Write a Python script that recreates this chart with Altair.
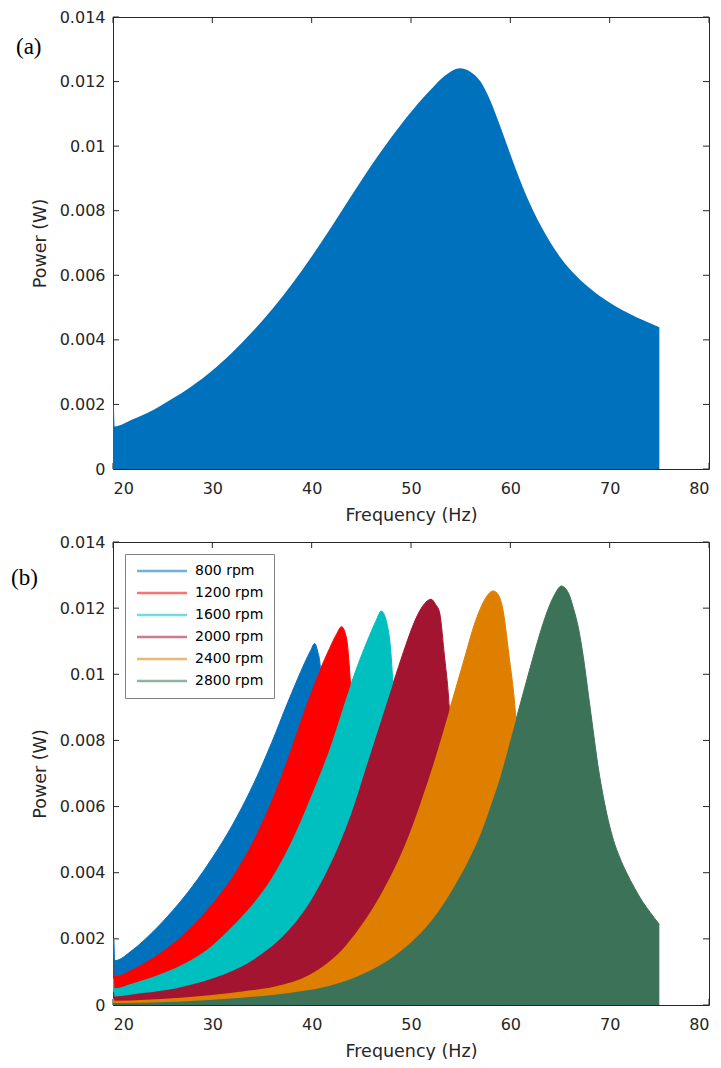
import altair as alt
import pandas as pd

# ---------------- data ----------------
FREQ_A = [20.0, 20.08, 20.16, 22.0, 24.0, 26.0, 28.0, 30.0, 32.0, 34.0, 36.0, 38.0, 40.0, 42.0,
          44.0, 46.0, 48.0, 50.0, 51.5, 52.5, 53.5, 54.3, 54.9, 56.0, 57.0, 58.0, 59.0, 60.0,
          61.0, 62.0, 63.0, 64.0, 65.0, 66.0, 67.5, 69.0, 70.5, 72.0, 73.5, 75.0]
POWER_A = [0.0020, 0.0020, 0.00132, 0.00154, 0.00182, 0.00218, 0.00258, 0.00305, 0.00361,
           0.00424, 0.00494, 0.00572, 0.00658, 0.0075, 0.00846, 0.0094, 0.01027, 0.01106,
           0.01159, 0.01192, 0.0122, 0.01236, 0.01241, 0.0123, 0.0120, 0.0114, 0.0106, 0.00975,
           0.00893, 0.0082, 0.00757, 0.00703, 0.00657, 0.00619, 0.00573, 0.00536, 0.00506,
           0.00481, 0.00459, 0.00439]

F800 = [20.0, 20.08, 20.16, 22.0, 24.0, 26.0, 28.0, 30.0, 32.0, 34.0, 36.0, 37.5, 38.5, 39.3,
        39.9, 40.3, 40.6, 40.85, 41.2, 41.5]
P800 = [0.0020, 0.0020, 0.00134, 0.00167, 0.00221, 0.00285, 0.00359, 0.00445, 0.00543, 0.00659,
        0.00795, 0.00908, 0.0098, 0.01035, 0.01072, 0.01093, 0.0107, 0.01028, 0.0080, 0.0050]

F1200 = [20.0, 20.08, 20.16, 22.0, 24.0, 26.0, 28.0, 30.0, 32.0, 34.0, 36.0, 38.0, 39.5, 40.8,
         41.8, 42.5, 43.0, 43.5, 43.85, 44.2, 44.5]
P1200 = [0.0014, 0.0014, 0.00087, 0.00108, 0.00142, 0.00185, 0.0024, 0.00306, 0.00386, 0.0049,
         0.0062, 0.0078, 0.0091, 0.0101, 0.01078, 0.01121, 0.01144, 0.0111, 0.00998, 0.0080,
         0.0050]

F1600 = [20.0, 20.08, 20.16, 22.0, 24.0, 26.0, 28.0, 30.0, 32.0, 34.0, 36.0, 38.0, 40.0, 42.0,
         43.5, 44.8, 45.8, 46.5, 47.0, 47.68, 48.02, 48.18, 48.5, 48.8]
P1600 = [0.0008, 0.0008, 0.00051, 0.00066, 0.00085, 0.00108, 0.00138, 0.0018, 0.00237, 0.00302,
         0.00385, 0.00496, 0.00635, 0.0079, 0.0093, 0.0104, 0.01115, 0.01163, 0.01191, 0.01139,
         0.01048, 0.0097, 0.0080, 0.0050]

F2000 = [20.0, 20.08, 20.16, 23.0, 26.4, 29.7, 33.0, 35.0, 37.0, 38.5, 40.0, 41.3, 42.7, 44.0,
         45.5, 47.0, 48.5, 49.5, 50.3, 51.0, 51.5, 52.02, 52.5, 52.86, 53.36, 53.86, 54.2, 54.5]
P2000 = [0.0004, 0.0004, 0.00026, 0.00036, 0.00051, 0.00077, 0.00117, 0.00155, 0.00205, 0.00255,
         0.0032, 0.0039, 0.0048, 0.0058, 0.0072, 0.0086, 0.0100, 0.0109, 0.01155, 0.01198,
         0.01218, 0.01227, 0.0121, 0.01189, 0.01058, 0.00897, 0.0070, 0.0050]

F2400 = [20.0, 20.08, 20.16, 26.4, 33.0, 36.3, 39.7, 41.5, 43.0, 44.7, 46.5, 48.0, 49.2, 50.19,
         51.2, 52.19, 53.86, 55.19, 56.52, 57.0, 57.5, 57.9, 58.26, 58.8, 59.19, 59.86, 60.52,
         60.9, 61.2]
P2400 = [0.0002, 0.0002, 0.00013, 0.00021, 0.00041, 0.00056, 0.0009, 0.00125, 0.00165, 0.00228,
         0.0031, 0.00393, 0.0047, 0.00545, 0.00632, 0.00722, 0.0089, 0.01028, 0.01163, 0.0120,
         0.0123, 0.01246, 0.01252, 0.0124, 0.01205, 0.01058, 0.0088, 0.0070, 0.0050]

F2800 = [20.0, 26.4, 33.0, 36.5, 39.7, 42.0, 44.7, 46.7, 48.5, 50.5, 52.2, 54.0, 55.0, 56.0,
         57.0, 58.0, 59.0, 60.0, 61.0, 62.0, 63.0, 63.5, 64.0, 64.5, 65.13, 65.5, 65.86, 66.36,
         66.86, 67.36, 67.86, 68.36, 68.86, 69.36, 69.86, 70.4, 71.0, 71.7, 72.5, 73.3, 74.1, 75.0]
P2800 = [0.00006, 0.0001, 0.00022, 0.00032, 0.00045, 0.0006, 0.00088, 0.00117, 0.00152, 0.00203,
         0.0026, 0.0034, 0.00392, 0.0045, 0.00516, 0.0060, 0.0069, 0.0080, 0.0091, 0.0102,
         0.01125, 0.01172, 0.01212, 0.01243, 0.01267, 0.01261, 0.01245, 0.01199, 0.01139, 0.0105,
         0.00938, 0.00825, 0.00716, 0.0063, 0.00558, 0.00497, 0.00447, 0.0040, 0.00354, 0.00313,
         0.00279, 0.00244]

RPM_LABELS = ["800 rpm", "1200 rpm", "1600 rpm", "2000 rpm", "2400 rpm", "2800 rpm"]
SERIES_F = [F800, F1200, F1600, F2000, F2400, F2800]
SERIES_P = [P800, P1200, P1600, P2000, P2400, P2800]
COLORS = ["#0072BD", "#FF0000", "#00BFBF", "#A2142F", "#DE7F00", "#3C7358"]
COLOR_A = "#0072BD"

X_TICKS = [20, 30, 40, 50, 60, 70, 80]
Y_TICKS = [0, 0.002, 0.004, 0.006, 0.008, 0.01, 0.012, 0.014]

# ---------------- styling ----------------
FONT = "DejaVu Sans"
INK = "#262626"
TICK = 6
W = 596
H_TOP = 452
H_BOT = 463


def x_enc():
    return alt.X("f:Q", scale=alt.Scale(domain=[20, 80], nice=False, zero=False),
                 axis=alt.Axis(values=X_TICKS, title="Frequency (Hz)", grid=False, domain=False,
                               ticks=False, labelPadding=11, titlePadding=10, labelFont=FONT,
                               titleFont=FONT, labelFontSize=16, titleFontSize=17.5,
                               titleFontWeight="normal", labelColor=INK, titleColor=INK))


def y_enc():
    return alt.Y("p:Q", stack=None, scale=alt.Scale(domain=[0, 0.014], nice=False),
                 axis=alt.Axis(values=Y_TICKS, format="~g", title="Power (W)", grid=False,
                               domain=False, ticks=False, labelPadding=8, titlePadding=10,
                               labelFont=FONT, titleFont=FONT, labelFontSize=16,
                               titleFontSize=17.5, titleFontWeight="normal",
                               labelColor=INK, titleColor=INK))


def tick_layers(h):
    xt = pd.DataFrame({"f": X_TICKS})
    yt = pd.DataFrame({"p": Y_TICKS})
    return [
        alt.Chart(xt).mark_rule(color=INK, strokeWidth=1).encode(
            x=x_enc(), y=alt.value(h), y2=alt.value(h - TICK)),
        alt.Chart(xt).mark_rule(color=INK, strokeWidth=1).encode(
            x=x_enc(), y=alt.value(0), y2=alt.value(TICK)),
        alt.Chart(yt).mark_rule(color=INK, strokeWidth=1).encode(
            y=y_enc(), x=alt.value(0), x2=alt.value(TICK)),
        alt.Chart(yt).mark_rule(color=INK, strokeWidth=1).encode(
            y=y_enc(), x=alt.value(W - TICK), x2=alt.value(W)),
    ]


def panel_label(text, dx, dy):
    return alt.Chart(pd.DataFrame({"t": [text]})).mark_text(
        font="Liberation Serif", fontSize=23, align="left", baseline="middle", color="black"
    ).encode(text="t:N", x=alt.value(dx), y=alt.value(dy))


# ---------------- panel (a) ----------------
df_a = pd.DataFrame({"f": FREQ_A, "p": POWER_A})
area_a = alt.Chart(df_a).mark_area(interpolate="monotone", color=COLOR_A, opacity=1).encode(
    x=x_enc(), y=y_enc())
top = alt.layer(*tick_layers(H_TOP), area_a, panel_label("(a)", -97, 30)).properties(
    width=W, height=H_TOP)

# ---------------- panel (b) ----------------
frames = []
for lab, fs, ps in zip(RPM_LABELS, SERIES_F, SERIES_P):
    frames.append(pd.DataFrame({"f": fs, "p": ps, "rpm": lab}))

fill_scale = alt.Scale(domain=RPM_LABELS, range=COLORS)
legend = alt.Legend(title=None, orient="none", legendX=12, legendY=12,
                    symbolType="M-1,0H9", symbolSize=100, symbolStrokeWidth=2.5,
                    symbolOpacity=0.55, labelFont=FONT, labelFontSize=14, labelColor="black",
                    labelOffset=46, strokeColor="#808080", fillColor="white", padding=10,
                    rowPadding=8)

line_layers = [
    alt.Chart(d).mark_line(interpolate="monotone", strokeWidth=1).encode(
        x=x_enc(), y=y_enc(),
        stroke=alt.Stroke("rpm:N", scale=fill_scale, legend=legend))
    for d in frames
]
area_layers = [
    alt.Chart(d).mark_area(interpolate="monotone", opacity=1).encode(
        x=x_enc(), y=y_enc(),
        fill=alt.Fill("rpm:N", scale=fill_scale, legend=None))
    for d in frames
]
bottom = alt.layer(*tick_layers(H_BOT), *line_layers, *area_layers,
                   panel_label("(b)", -102, 36)).properties(width=W, height=H_BOT)

chart = alt.vconcat(top, bottom, spacing=9).resolve_scale(
    stroke="independent", fill="independent").resolve_legend(stroke="independent").configure_view(
    stroke=INK, strokeWidth=1).properties(
    padding={"left": 2, "top": 0, "right": 2, "bottom": 0}, background="white")

chart.save("out.html", embed_options={"renderer": "svg", "actions": False})
